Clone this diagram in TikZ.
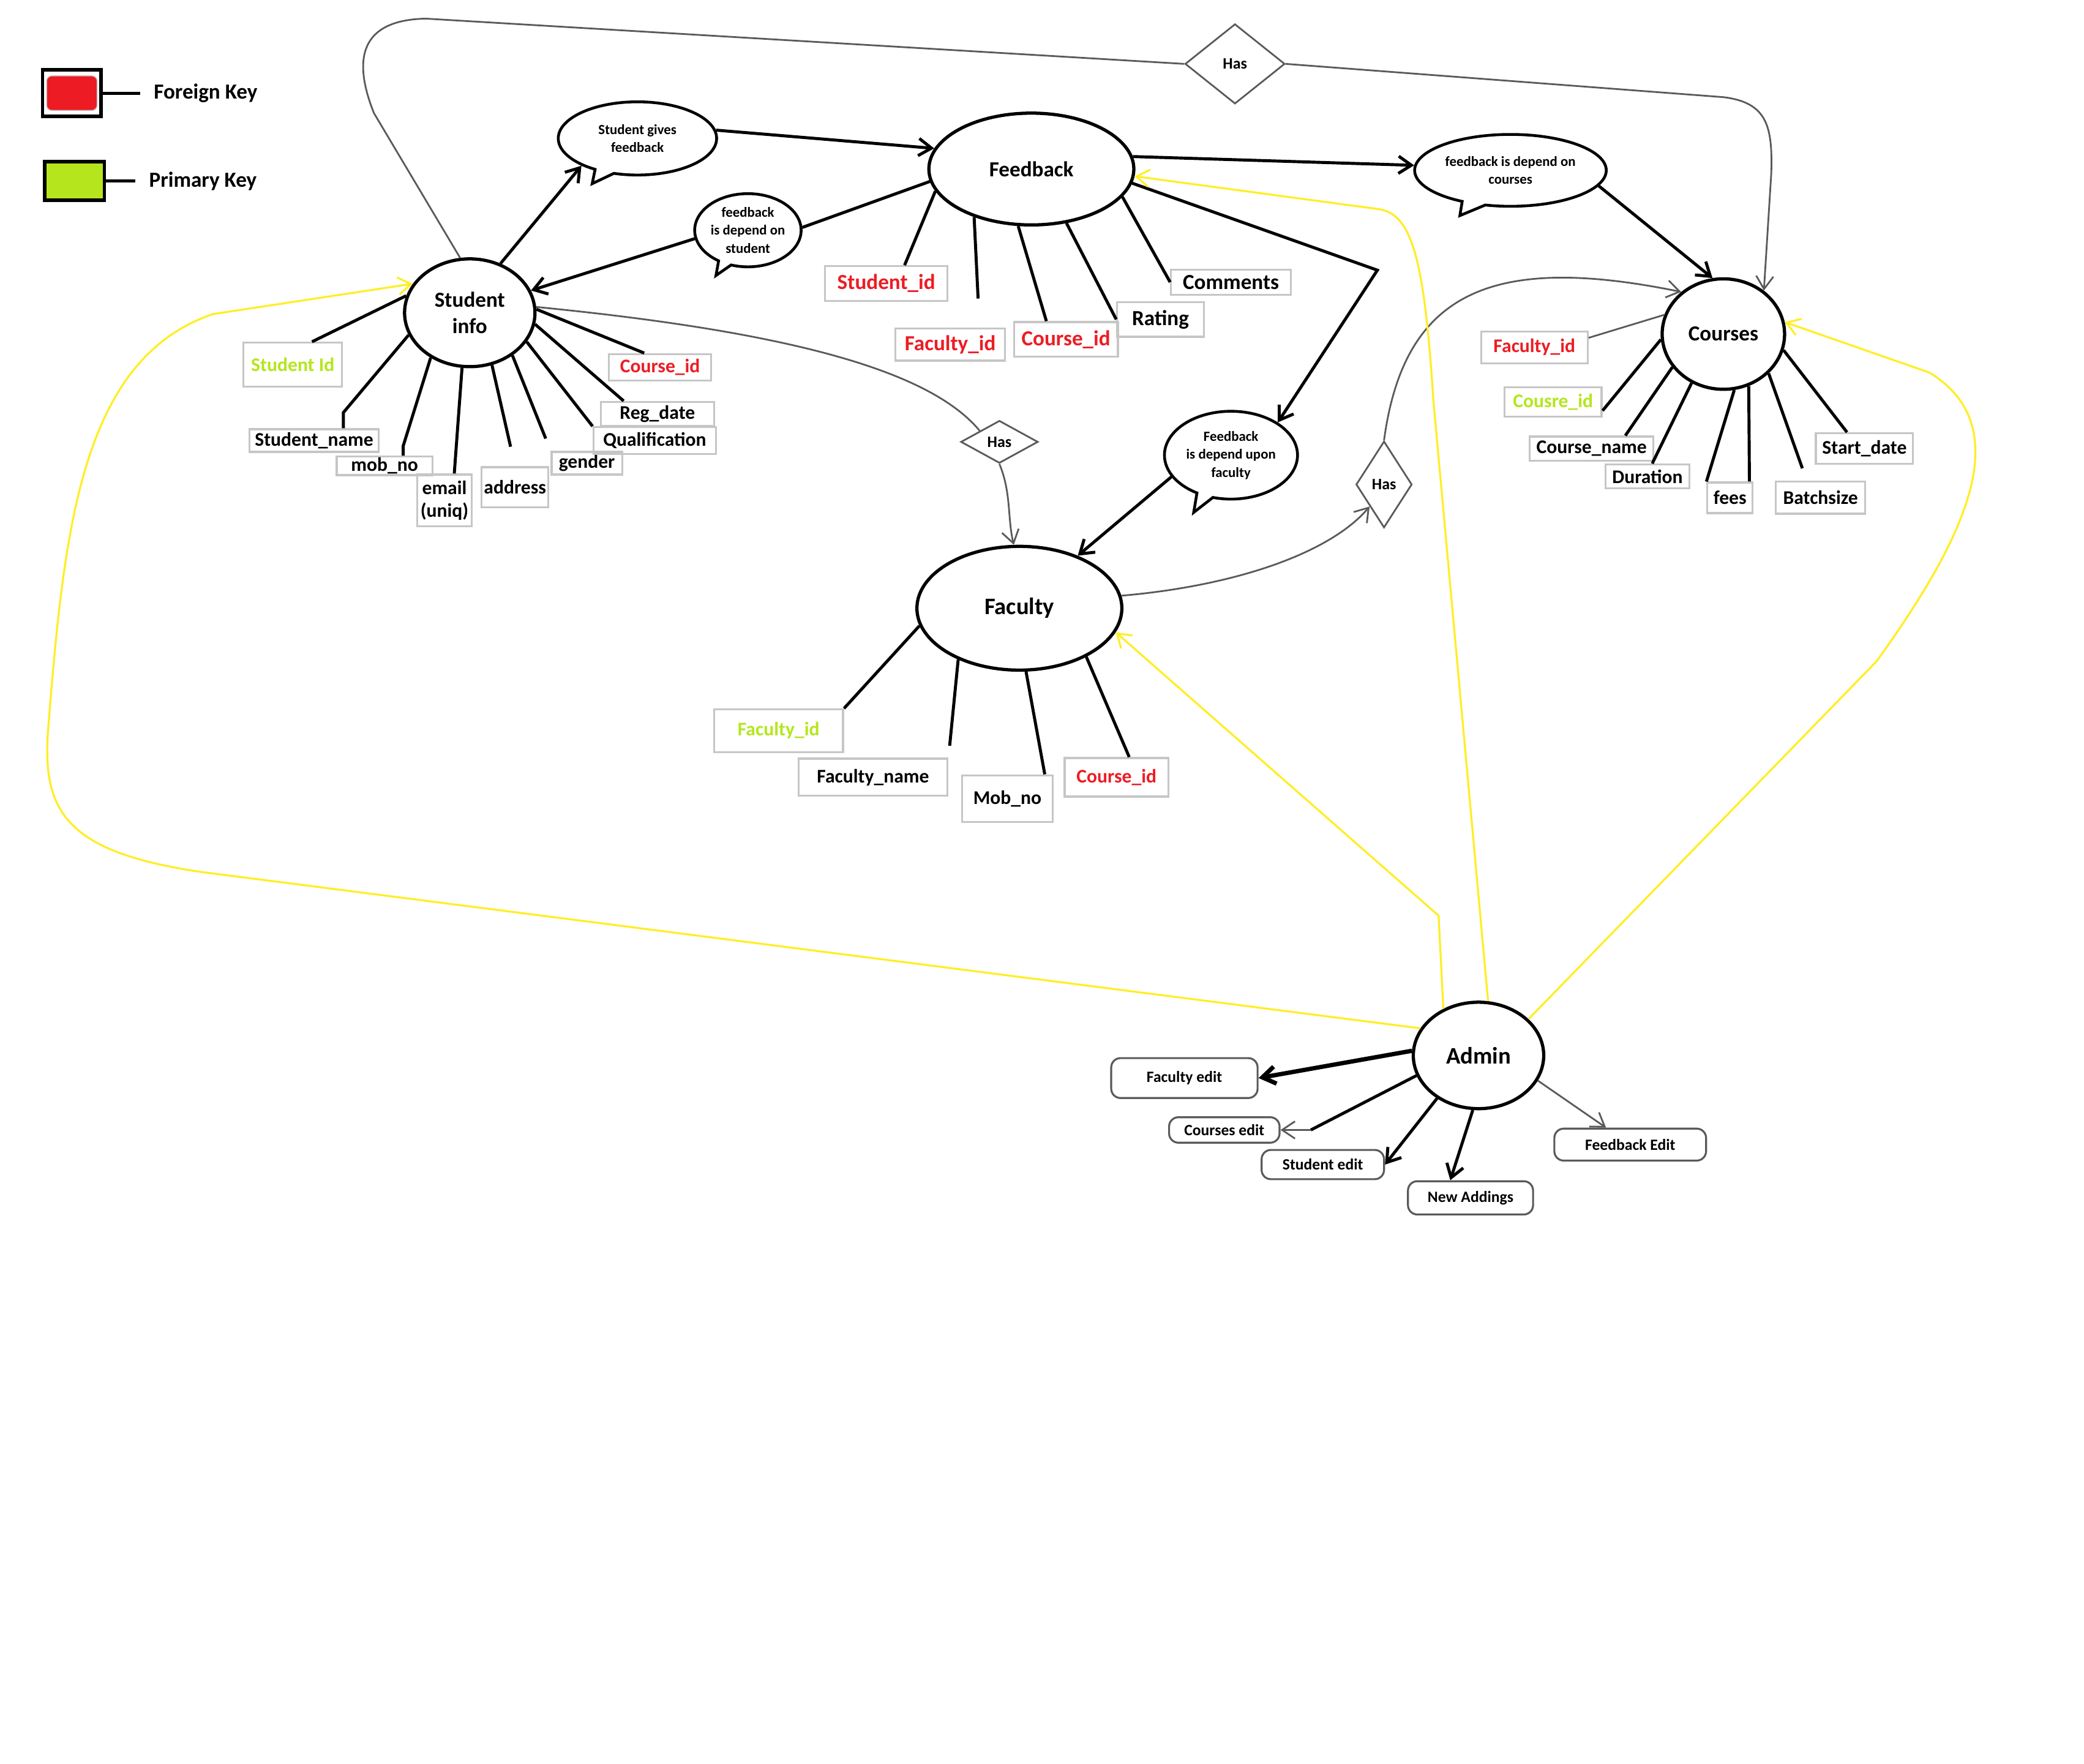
\documentclass[tikz,border=0pt]{standalone}
\usepackage{fontspec}
\setmainfont{Carlito}
\usetikzlibrary{arrows.meta,shapes.geometric,shapes.callouts,positioning}

\definecolor{fkred}{HTML}{ED1C24}
\definecolor{pkgreen}{HTML}{B5E61D}
\definecolor{boxgray}{HTML}{C6C6C6}
\definecolor{linegray}{HTML}{5A5A5A}
\definecolor{hiyellow}{HTML}{FFEE22}

\newlength\unitpx
\setlength\unitpx{0.2174mm}

\tikzset{
  box/.style 2 args={minimum width=#1\unitpx, minimum height=#2\unitpx},
  entity/.style={draw, ellipse, line width=1.5pt, inner sep=0pt, align=center,
    font=\bfseries\fontsize{10}{12.4}\selectfont},
  attr/.style={draw=boxgray, line width=0.9pt, inner sep=0pt, align=center,
    font=\bfseries\fontsize{9}{10.5}\selectfont},
  big/.style={font=\bfseries\fontsize{10}{12}\selectfont},
  fk/.style={text=fkred},
  pk/.style={text=pkgreen},
  rel/.style={draw=linegray, diamond, line width=0.8pt, inner sep=0pt,
    font=\bfseries\fontsize{7.4}{9}\selectfont},
  note/.style={draw, ellipse callout, line width=1.3pt, inner sep=0pt, align=center,
    font=\bfseries\fontsize{6.5}{8.4}\selectfont},
  task/.style={draw=linegray, rounded corners=7\unitpx, line width=0.9pt,
    font=\bfseries\fontsize{7.3}{9}\selectfont},
  link/.style={line width=1.4pt},
  graylink/.style={draw=linegray, line width=0.8pt},
  adminlink/.style={draw=hiyellow, line width=0.9pt},
  legtext/.style={font=\bfseries\fontsize{10}{12}\selectfont, inner xsep=10\unitpx, inner ysep=0pt},
}

\begin{document}
\begin{tikzpicture}[x=\unitpx, y=-\unitpx, >={Straight Barb[length=6pt,width=8pt]}]
\useasboundingbox (0,0) rectangle (1566,1325);
\fill[white] (0,0) rectangle (1566,1325);

% legend
\node[draw, line width=1.6pt, box={44}{35}] (fkbox) at (54,70) {};
\node[fill=fkred, draw=boxgray, rounded corners=4\unitpx, box={38}{26}] (fkfill) at (fkbox) {};
\node[legtext, right=28\unitpx of fkbox] (fktext) {Foreign Key};
\draw[link] (fkbox) -- (fktext);
\node[draw, line width=1.6pt, fill=pkgreen, box={45}{29}] (pkbox) at (56,136) {};
\node[legtext, right=22\unitpx of pkbox] (pktext) {Primary Key};
\draw[link] (pkbox) -- (pktext);

% entities
\node[entity, box={98}{81}] (stu) at (353,235) {Student\\info};
\node[entity, box={154}{84}] (fb) at (775,127) {Feedback};
\node[entity, box={92}{83}] (crs) at (1295,251) {Courses};
\node[entity, box={154}{93}, font=\bfseries\fontsize{11}{13}\selectfont] (fac) at (766,457) {Faculty};
\node[entity, box={98}{80}, font=\bfseries\fontsize{11}{13}\selectfont] (adm) at (1111,793) {Admin};

% relations
\node[rel, box={75}{60}] (has1) at (928,48) {Has};
\node[rel, box={58}{32}] (has2) at (751,332) {Has};
\node[rel, box={42}{65}] (has3) at (1040,364) {Has};

% callouts
\node[note, box={119}{55}, callout absolute pointer={(445,138)}] (sgf) at (479,104) {Student gives\\feedback};
\node[note, box={80}{55}, callout absolute pointer={(538,207)}] (fds) at (562,173) {feedback\\is depend on\\student};
\node[note, box={144}{54}, callout absolute pointer={(1097,162)}] (fdc) at (1135,128) {feedback is depend on\\courses};
\node[note, box={100}{66}, callout absolute pointer={(897,385)}] (fdf) at (925,342) {Feedback\\is depend upon\\faculty};

% student info attributes
\node[attr, pk, box={74}{33}] (sid) at (220,274) {Student Id};
\node[attr, box={97}{17}] (sname) at (236,331) {Student\_name};
\node[attr, box={72}{14}] (smob) at (289,350) {mob\_no};
\node[attr, box={41}{39}] (semail) at (334,376) {email\\(uniq)};
\node[attr, box={50}{30}] (saddr) at (387,366) {address};
\node[attr, box={53}{17}] (sgen) at (441,348) {gender};
\node[attr, box={92}{20}] (squal) at (492,331) {Qualification};
\node[attr, box={85}{18}] (sreg) at (494,311) {Reg\_date};
\node[attr, fk, box={77}{20}] (scid) at (496,276) {Course\_id};

\coordinate (snbend) at (258,310);
\coordinate (smbend) at (303,335);
\draw[link] (stu.200) -- (snbend) -- (snbend |- sname.north);
\draw[link] (stu.229) -- (smbend) -- (smbend |- smob.north);
\path[link] (stu.165) edge (sid.50)
            (stu.262) edge (semail.70)
            (stu.293) edge[shorten >=15\unitpx] (saddr.north)
            (stu.315) edge[shorten >=10\unitpx] (sgen.north west)
            (stu.333) edge (squal.north west)
            (stu.350) edge (sreg.159)
            (stu.3) edge (scid.138);

% feedback attributes
\node[attr, fk, big, box={92}{26}] (fsid) at (666,213) {Student\_id};
\node[attr, fk, big, box={82}{24}] (ffid) at (714,259) {Faculty\_id};
\node[attr, fk, big, box={78}{26}] (fcid) at (801,255) {Course\_id};
\node[attr, big, box={65}{26}] (frat) at (872,240) {Rating};
\node[attr, big, box={90}{19}] (fcom) at (925,212) {Comments};

\path[link] (fb.193) edge (fsid.45)
            (fb.220) edge[shorten >=22\unitpx] (ffid.30)
            (fb.257) edge (fcid.137)
            (fb.303) edge (frat.west)
            (fb.343) edge (fcom.west);

% courses attributes
\node[attr, fk, box={80}{24}] (cfid) at (1153,261) {Faculty\_id};
\node[attr, pk, box={73}{22}] (ccid) at (1167,302) {Cousre\_id};
\node[attr, box={93}{18}] (cname) at (1196,337) {Course\_name};
\node[attr, box={63}{18}] (cdur) at (1238,358) {Duration};
\node[attr, box={34}{23}] (cfees) at (1300,374) {fees};
\node[attr, box={67}{24}] (cbat) at (1368,374) {Batchsize};
\node[attr, box={73}{23}] (cstart) at (1401,337) {Start\_date};

\draw[graylink] (crs.162) -- (cfid.10);
\path[link] (crs.185) edge (ccid.350)
            (crs.213) edge (cname.21)
            (crs.237) edge (cdur.70)
            (crs.281) edge (cfees.north west)
            (crs.296) edge (cfees.40)
            (crs.319) edge[shorten >=10\unitpx] (cbat.129)
            (crs.345) edge (cstart.137);

% faculty attributes
\node[attr, pk, box={97}{32}] (facid) at (585,549) {Faculty\_id};
\node[attr, box={112}{28}] (facname) at (656,584) {Faculty\_name};
\node[attr, box={68}{35}] (facmob) at (757,600) {Mob\_no};
\node[attr, fk, box={78}{29}] (faccid) at (839,584) {Course\_id};

\path[link] (fac.190) edge (facid.north east)
            (fac.220) edge[shorten >=9\unitpx] (facname.north east)
            (fac.276) edge (facmob.33)
            (fac.324) edge (faccid.58);

% admin tasks
\node[task, box={110}{30}] (afac) at (890,810) {Faculty edit};
\node[task, box={83}{16}] (acrs) at (920,849) {Courses edit};
\node[task, box={92}{22}] (astu) at (994,875) {Student edit};
\node[task, box={94}{25}] (anew) at (1105,900) {New Addings};
\node[task, box={114}{24}] (afbk) at (1225,860) {Feedback Edit};

\coordinate (acbend) at (985,849);
\draw[link, line width=2pt, ->] (adm.176) -- (afac.east);
\draw[link] (adm.198) -- (acbend);
\draw[graylink, ->] (acbend) -- (acrs.east);
\path[link, ->] (adm.226) edge (astu.east)
                (adm.264) edge (anew.139);
\draw[graylink, ->] (adm.337) -- (afbk.145);

% callout links
\draw[link, ->] (stu.58) -- (sgf.206);
\draw[link, ->] (sgf.6) -- (fb.168);
\draw[link] (fb.187) -- (fds.3);
\draw[link, ->] (fds.189) -- (stu.20);
\draw[link, ->] (fb.7) -- (fdc.177);
\draw[link, ->] (fdc.350) -- (crs.101);
\coordinate (fbend) at (1035,203);
\draw[link, ->] (fb.352) -- (fbend) -- (fdf.35);
\draw[link, ->] (fdf.200) -- (fac.42);

% has links
\draw[graylink] (stu.100) -- (281,85) .. controls (265,45) and (270,15) .. (320,14) -- (has1.west);
\draw[graylink, ->] (has1.east) -- (1295,73) .. controls (1328,77) and (1332,95) .. (1331,130) -- (crs.47);
\draw[graylink] (stu.5) .. controls (600,250) and (700,280) .. (has2.north west);
\draw[graylink, ->] (has2.south) .. controls (760,370) and (757,390) .. (fac.95);
\draw[graylink, ->] (fac.7) .. controls (930,440) and (1000,415) .. (has3.south west);
\draw[graylink, ->] (has3.north) .. controls (1055,220) and (1120,190) .. (crs.135);

% admin access
\draw[adminlink, ->] (adm.155) -- (150,655) .. controls (50,640) and (32,610) .. (36,550)
      .. controls (48,400) and (60,270) .. (160,236) -- (stu.153);
\draw[adminlink, ->] (adm.127) -- (1081,688) -- (fac.346);
\draw[adminlink, ->] (adm.80) -- (1077,300) .. controls (1070,190) and (1060,160) .. (1035,157) -- (fb.356);
\draw[adminlink, ->] (adm.36) -- (1410,497) .. controls (1480,400) and (1515,320) .. (1450,280) -- (crs.11);
\end{tikzpicture}
\end{document}
